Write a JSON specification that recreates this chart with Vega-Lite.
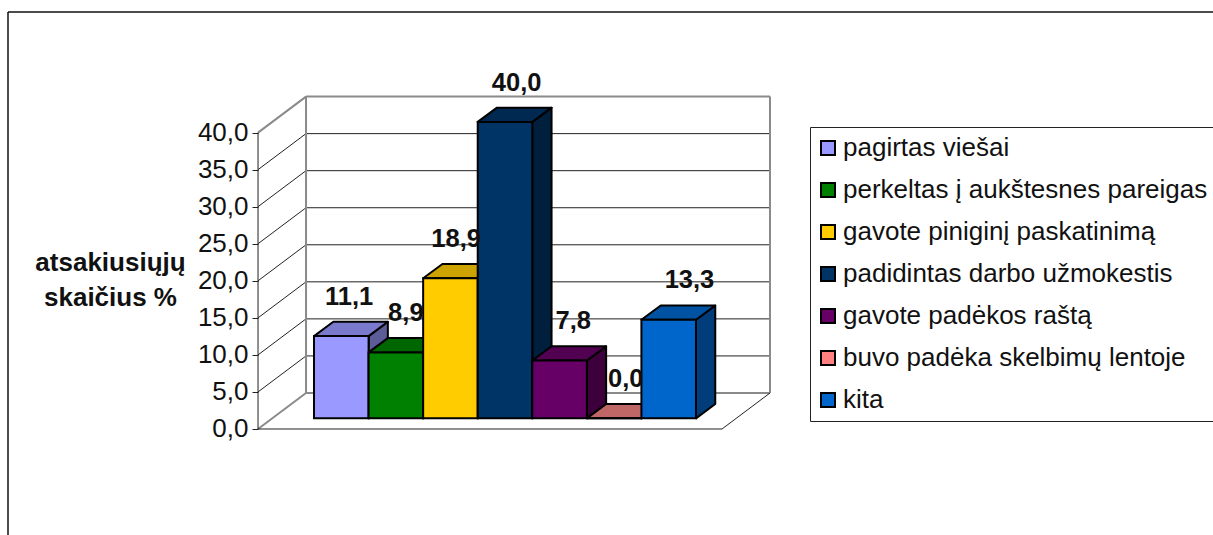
{
  "$schema": "https://vega.github.io/schema/vega-lite/v6.json",
  "width": 1205,
  "height": 523,
  "padding": {"left": 8, "top": 12, "right": 0, "bottom": 0},
  "autosize": {"type": "none"},
  "background": "white",
  "view": {"stroke": null, "fill": "white"},
  "config": {"font": "Liberation Sans"},
  "datasets": {
    "bars": [
      {"label": "pagirtas viešai", "value": 11.1},
      {"label": "perkeltas į aukštesnes pareigas", "value": 8.9},
      {"label": "gavote piniginį paskatinimą", "value": 18.9},
      {"label": "padidintas darbo užmokestis", "value": 40.0},
      {"label": "gavote padėkos raštą", "value": 7.8},
      {"label": "buvo padėka skelbimų lentoje", "value": 0.0},
      {"label": "kita", "value": 13.3}
    ],
    "ticks": [{"v": 0}, {"v": 5}, {"v": 10}, {"v": 15}, {"v": 20}, {"v": 25}, {"v": 30}, {"v": 35}, {"v": 40}]
  },
  "layer": [
    {
      "mark": {"type": "rule", "color": "#111", "strokeWidth": 1.5},
      "data": {"values": [
        {"xa": -4.63, "xb": -4.63, "ya": -14.305, "yb": 56.275},
        {"xa": -4.63, "xb": 17.685, "ya": 56.275, "yb": 56.275}
      ]},
      "encoding": {
        "x": {"field": "xa", "type": "quantitative", "axis": null, "scale": {"domain": [-4.63, 17.685], "nice": false, "zero": false}},
        "x2": {"field": "xb"},
        "y": {"field": "ya", "type": "quantitative", "scale": {"domain": [-14.305, 56.275], "nice": false, "zero": false}},
        "y2": {"field": "yb"}
      }
    },
    {
      "data": {"name": "ticks"},
      "transform": [
        {"calculate": "0", "as": "xa"},
        {"calculate": "0.889", "as": "xb"},
        {"calculate": "datum.v", "as": "ya"},
        {"calculate": "datum.v + 4.86", "as": "yb"}
      ],
      "mark": {"type": "rule"},
      "encoding": {
        "x": {"field": "xa", "type": "quantitative", "axis": null, "scale": {"domain": [-4.63, 17.685], "nice": false, "zero": false}},
        "x2": {"field": "xb"},
        "y": {
          "field": "ya",
          "type": "quantitative",
          "scale": {"domain": [-14.305, 56.275], "nice": false, "zero": false},
          "axis": {
            "orient": "left",
            "offset": -250,
            "values": [0, 5, 10, 15, 20, 25, 30, 35, 40],
            "grid": false,
            "domain": false,
            "tickSize": 6,
            "tickColor": "#222",
            "labelExpr": "replace(format(datum.value, '.1f'), '.', ',')",
            "labelFont": "Liberation Sans",
            "labelFontSize": 26,
            "labelColor": "#111",
            "labelPadding": 4,
            "title": ["atsakiusiųjų", "skaičius %"],
            "titleFont": "Liberation Sans",
            "titleFontSize": 26,
            "titleFontWeight": "bold",
            "titleColor": "#111",
            "titleAngle": 0,
            "titleAlign": "center",
            "titleBaseline": "alphabetic",
            "titleLineHeight": 35,
            "titleX": -148,
            "titleY": 258
          }
        },
        "y2": {"field": "yb"},
        "color": {"condition": {"test": "datum.v === 0 || datum.v === 40", "value": "#8a8a8a"}, "value": "#222"},
        "strokeWidth": {"condition": {"test": "datum.v === 0 || datum.v === 40", "value": 2}, "value": 1}
      }
    },
    {
      "data": {"name": "ticks"},
      "transform": [
        {"calculate": "0.889", "as": "xa"},
        {"calculate": "9.481", "as": "xb"},
        {"calculate": "datum.v + 4.86", "as": "ya"}
      ],
      "mark": {"type": "rule"},
      "encoding": {
        "x": {"field": "xa", "type": "quantitative", "axis": null, "scale": {"domain": [-4.63, 17.685], "nice": false, "zero": false}},
        "x2": {"field": "xb"},
        "y": {"field": "ya", "type": "quantitative", "scale": {"domain": [-14.305, 56.275], "nice": false, "zero": false}},
        "color": {"condition": {"test": "datum.v === 0 || datum.v === 40", "value": "#8a8a8a"}, "value": "#222"},
        "strokeWidth": {"condition": {"test": "datum.v === 0 || datum.v === 40", "value": 2}, "value": 1}
      }
    },
    {
      "mark": {"type": "rule", "color": "#8a8a8a", "strokeWidth": 2},
      "data": {"values": [{"xa": 0.889, "ya": 4.86, "yb": 44.86}, {"xa": 9.481, "ya": 4.86, "yb": 44.86}]},
      "encoding": {
        "x": {"field": "xa", "type": "quantitative", "axis": null, "scale": {"domain": [-4.63, 17.685], "nice": false, "zero": false}},
        "y": {"field": "ya", "type": "quantitative", "scale": {"domain": [-14.305, 56.275], "nice": false, "zero": false}},
        "y2": {"field": "yb"}
      }
    },
    {
      "mark": {"type": "rule", "color": "#222", "strokeWidth": 1},
      "data": {"values": [
        {"xa": 0, "xb": 0, "ya": 0, "yb": 40},
        {"xa": 0, "xb": 8.593, "ya": 0, "yb": 0},
        {"xa": 8.593, "xb": 9.481, "ya": 0, "yb": 4.86}
      ]},
      "encoding": {
        "x": {"field": "xa", "type": "quantitative", "axis": null, "scale": {"domain": [-4.63, 17.685], "nice": false, "zero": false}},
        "x2": {"field": "xb"},
        "y": {"field": "ya", "type": "quantitative", "scale": {"domain": [-14.305, 56.275], "nice": false, "zero": false}},
        "y2": {"field": "yb"}
      }
    },
    {
      "data": {"name": "bars"},
      "transform": [
        {"window": [{"op": "row_number", "as": "n"}]},
        {"calculate": "[0, 1]", "as": "t"},
        {"flatten": ["t"]},
        {"calculate": "datum.n * 1.0105 + 1.037 + datum.t * 0.357", "as": "xa"},
        {"calculate": "1.44 + datum.t * 1.93", "as": "ya"},
        {"calculate": "datum.value + 1.44 + datum.t * 1.93", "as": "yb"}
      ],
      "mark": {"type": "area", "stroke": "#000", "strokeWidth": 2, "strokeJoin": "round"},
      "encoding": {
        "x": {"field": "xa", "type": "quantitative", "axis": null, "scale": {"domain": [-4.63, 17.685], "nice": false, "zero": false}},
        "y": {"field": "ya", "type": "quantitative", "scale": {"domain": [-14.305, 56.275], "nice": false, "zero": false}},
        "y2": {"field": "yb"},
        "fill": {
          "field": "label",
          "type": "nominal",
          "legend": null,
          "scale": {
            "domain": ["pagirtas viešai", "perkeltas į aukštesnes pareigas", "gavote piniginį paskatinimą", "padidintas darbo užmokestis", "gavote padėkos raštą", "buvo padėka skelbimų lentoje", "kita"],
            "range": ["#5c5c99", "#004d00", "#997a00", "#001f3d", "#3d003d", "#994d4d", "#003d7a"]
          }
        }
      }
    },
    {
      "data": {"name": "bars"},
      "transform": [
        {"window": [{"op": "row_number", "as": "n"}]},
        {"calculate": "[0, 1]", "as": "t"},
        {"flatten": ["t"]},
        {"calculate": "(datum.n - 1) * 1.0105 + 1.037 + datum.t * 0.357", "as": "xa"},
        {"calculate": "datum.xa + 1.0105", "as": "xb"},
        {"calculate": "datum.value + 1.44 + datum.t * 1.93", "as": "ya"}
      ],
      "mark": {"type": "area", "orient": "horizontal", "stroke": "#000", "strokeWidth": 2, "strokeJoin": "round"},
      "encoding": {
        "x": {"field": "xa", "type": "quantitative", "axis": null, "scale": {"domain": [-4.63, 17.685], "nice": false, "zero": false}},
        "x2": {"field": "xb"},
        "y": {"field": "ya", "type": "quantitative", "scale": {"domain": [-14.305, 56.275], "nice": false, "zero": false}},
        "fill": {
          "field": "label",
          "type": "nominal",
          "legend": null,
          "scale": {
            "domain": ["pagirtas viešai", "perkeltas į aukštesnes pareigas", "gavote piniginį paskatinimą", "padidintas darbo užmokestis", "gavote padėkos raštą", "buvo padėka skelbimų lentoje", "kita"],
            "range": ["#7a7acc", "#006600", "#cca300", "#002952", "#520052", "#bf6666", "#0052a3"]
          }
        }
      }
    },
    {
      "data": {"name": "bars"},
      "transform": [
        {"window": [{"op": "row_number", "as": "n"}]},
        {"calculate": "(datum.n - 1) * 1.0105 + 1.037", "as": "xa"},
        {"calculate": "datum.xa + 1.0105", "as": "xb"},
        {"calculate": "1.44", "as": "ya"},
        {"calculate": "datum.value + 1.44", "as": "yb"}
      ],
      "mark": {"type": "rect", "stroke": "#000", "strokeWidth": 2},
      "encoding": {
        "x": {"field": "xa", "type": "quantitative", "axis": null, "scale": {"domain": [-4.63, 17.685], "nice": false, "zero": false}},
        "x2": {"field": "xb"},
        "y": {"field": "ya", "type": "quantitative", "scale": {"domain": [-14.305, 56.275], "nice": false, "zero": false}},
        "y2": {"field": "yb"},
        "fill": {
          "field": "label",
          "type": "nominal",
          "sort": null,
          "scale": {
            "domain": ["pagirtas viešai", "perkeltas į aukštesnes pareigas", "gavote piniginį paskatinimą", "padidintas darbo užmokestis", "gavote padėkos raštą", "buvo padėka skelbimų lentoje", "kita"],
            "range": ["#9999ff", "#008000", "#ffcc00", "#003366", "#660066", "#ff8080", "#0066cc"]
          },
          "legend": {
            "orient": "none",
            "legendX": 802,
            "legendY": 115,
            "title": null,
            "padding": 8,
            "strokeColor": "#222",
            "fillColor": "white",
            "symbolType": "square",
            "symbolSize": 196,
            "symbolOffset": -3,
            "symbolStrokeColor": "#000",
            "symbolStrokeWidth": 2,
            "labelFont": "Liberation Sans",
            "labelFontSize": 26,
            "labelColor": "#111",
            "labelOffset": 2,
            "labelLimit": 500,
            "rowPadding": 16
          }
        }
      }
    },
    {
      "data": {"name": "bars"},
      "transform": [
        {"window": [{"op": "row_number", "as": "n"}]},
        {"calculate": "(datum.n - 1) * 1.0105 + 1.037 + 0.5 + [0.15, 0.19, 0.11, 0.22, 0.26, 0.22, 0.39][datum.n - 1]", "as": "xa"},
        {"calculate": "datum.value + 1.44 + 1.93 + 2.3", "as": "ya"},
        {"calculate": "replace(format(datum.value, '.1f'), '.', ',')", "as": "txt"}
      ],
      "mark": {"type": "text", "font": "Liberation Sans", "fontSize": 25.5, "fontWeight": "bold", "color": "#111", "align": "center", "baseline": "alphabetic"},
      "encoding": {
        "x": {"field": "xa", "type": "quantitative", "axis": null, "scale": {"domain": [-4.63, 17.685], "nice": false, "zero": false}},
        "y": {"field": "ya", "type": "quantitative", "scale": {"domain": [-14.305, 56.275], "nice": false, "zero": false}},
        "text": {"field": "txt", "type": "nominal"}
      }
    }
  ],
  "resolve": {"scale": {"fill": "independent"}}
}
